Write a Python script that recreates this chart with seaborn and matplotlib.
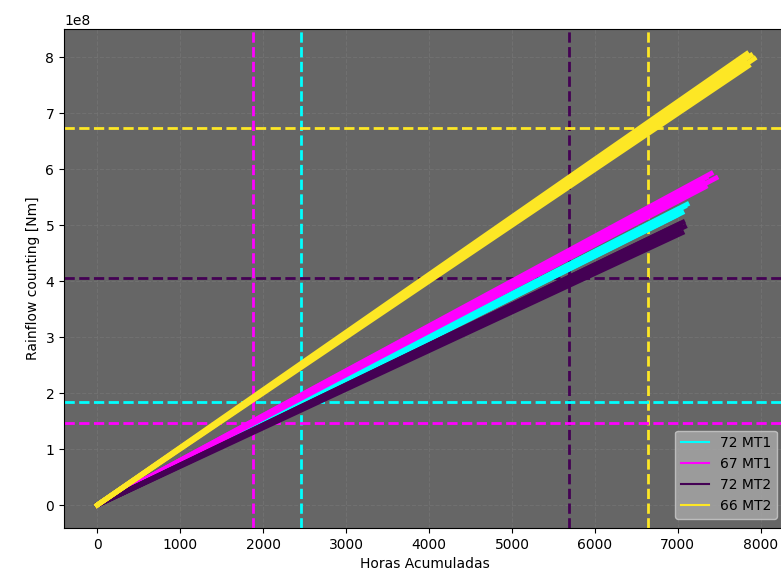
import matplotlib
matplotlib.use("Agg")
import matplotlib.pyplot as plt
import seaborn as sns
import pandas as pd

# ---- data ----
groups = ["72 MT1", "67 MT1", "72 MT2", "66 MT2"]
colors = {"72 MT1": "#00FFFF", "67 MT1": "#FF00FF", "72 MT2": "#440154", "66 MT2": "#FDE725"}

# end points of each sub-series (hours, Nm); every series starts at (0, 0)
end_hours = {
    "72 MT1": [6980, 7030, 7080, 7110, 7050, 7000],
    "67 MT1": [7280, 7340, 7400, 7460, 7330, 7300],
    "72 MT2": [6990, 7030, 7060, 7080, 7050, 7010],
    "66 MT2": [7780, 7830, 7880, 7920, 7850, 7800],
}
end_values = {
    "72 MT1": [5.17e8, 5.26e8, 5.33e8, 5.37e8, 5.22e8, 5.28e8],
    "67 MT1": [5.72e8, 5.85e8, 5.92e8, 5.84e8, 5.68e8, 5.78e8],
    "72 MT2": [4.90e8, 4.98e8, 5.05e8, 4.97e8, 4.86e8, 5.01e8],
    "66 MT2": [7.88e8, 8.06e8, 8.03e8, 7.97e8, 7.84e8, 7.93e8],
}

# threshold markers
vlines_x = {"67 MT1": 1880, "72 MT1": 2458, "72 MT2": 5687, "66 MT2": 6639}
hlines_y = {"66 MT2": 6.73e8, "72 MT2": 4.05e8, "72 MT1": 1.84e8, "67 MT1": 1.46e8}

rows = []
for g in groups:
    for i, (h, v) in enumerate(zip(end_hours[g], end_values[g])):
        rows.append({"hours": 0, "value": 0, "group": g, "unit": f"{g}-{i}"})
        rows.append({"hours": h, "value": v, "group": g, "unit": f"{g}-{i}"})
df = pd.DataFrame(rows)

fig = plt.figure(figsize=(7.81, 5.85), dpi=100)
ax = fig.add_axes([0.082, 0.0974, 0.924, 0.853])
ax.set_facecolor("#666666")

for g, x in vlines_x.items():
    ax.axvline(x, color=colors[g], ls="--", lw=2, zorder=1.5)
for g, y in hlines_y.items():
    ax.axhline(y, color=colors[g], ls="--", lw=2, zorder=1.5)

sns.lineplot(data=df, x="hours", y="value", hue="group", units="unit",
             estimator=None, palette=colors, hue_order=groups, lw=3.5,
             sort=False, ax=ax, zorder=2)

ax.grid(True, ls="--", color="#757575", alpha=0.7, lw=0.8)
ax.set_axisbelow(True)
ax.set_xlim(-400, 8300)
ax.set_ylim(-0.41e8, 8.5e8)
ax.set_xlabel("Horas Acumuladas")
ax.set_ylabel("Rainflow counting [Nm]")

handles, labels = ax.get_legend_handles_labels()
leg = ax.legend(handles, labels, loc="lower right", facecolor="darkgray",
                bbox_to_anchor=(0.997, 0.005))
leg.set_zorder(5)
for lh in leg.get_lines():
    lh.set_linewidth(1.5)

fig.savefig("out.png", dpi=100)
